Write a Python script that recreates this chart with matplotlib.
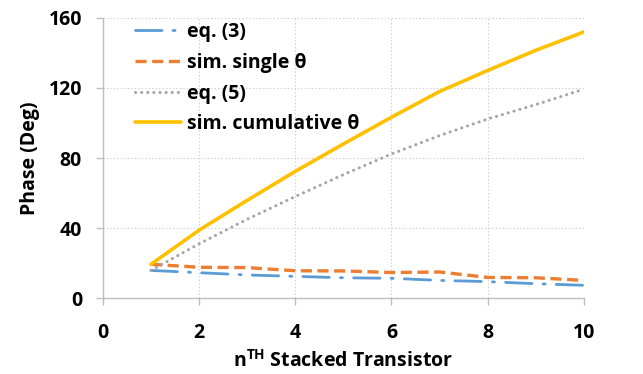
import matplotlib
matplotlib.use("Agg")
import matplotlib.pyplot as plt

FONT = ['Open Sans', 'DejaVu Sans']
plt.rcParams['font.family'] = FONT
plt.rcParams['font.weight'] = 'bold'
plt.rcParams['mathtext.fontset'] = 'custom'
plt.rcParams['mathtext.bf'] = 'Open Sans:bold'
plt.rcParams['mathtext.rm'] = 'Open Sans:bold'
plt.rcParams['lines.scale_dashes'] = False

x = [1, 2, 3, 4, 5, 6, 7, 8, 9, 10]
eq3 = [15.8, 14.5, 13.2, 12.4, 11.6, 11.3, 10.1, 9.4, 8.2, 7.3]
sim_single = [19.3, 17.6, 17.4, 15.6, 15.5, 14.6, 14.9, 11.8, 11.6, 10.1]
eq5 = [15.8, 31.0, 45.0, 58.0, 70.5, 82.3, 92.8, 102.3, 110.5, 119.3]
sim_cum = [19.3, 38.8, 55.8, 72.4, 88.0, 103.3, 118.0, 130.0, 141.5, 152.0]

labels = ['eq. (3)', 'sim. single θ', 'eq. (5)', 'sim. cumulative θ']
colors = ['#5B9BD5', '#ED7D31', '#A5A5A5', '#FFC000']

xticks = [0, 2, 4, 6, 8, 10]
yticks = [0, 40, 80, 120, 160]

FS = 14

fig = plt.figure(figsize=(6.43, 3.74), dpi=100)
ax = fig.add_axes([0.160, 0.203, 0.748, 0.749])

ax.plot(x, eq3, color=colors[0], lw=2.0, dashes=(19, 8, 1.5, 8), solid_capstyle='round',
        dash_capstyle='round', label=labels[0])
ax.plot(x, sim_single, color=colors[1], lw=2.4, dashes=(8, 4), label=labels[1])
ax.plot(x, eq5, color=colors[2], lw=2.2, dashes=(0.1, 4.3), dash_capstyle='round', label=labels[2])
ax.plot(x, sim_cum, color=colors[3], lw=2.6, label=labels[3], solid_capstyle='round')

ax.set_xlim(0, 10)
ax.set_ylim(0, 160)
ax.set_xticks(xticks)
ax.set_yticks(yticks)
ax.grid(True, color='#D0D0D0', linestyle=(0, (1, 1.5)), lw=0.8)
ax.set_axisbelow(True)
for s in ['top', 'right']:
    ax.spines[s].set_visible(False)
for s in ['left', 'bottom']:
    ax.spines[s].set_color('#BFBFBF')
    ax.spines[s].set_linewidth(1.0)
ax.tick_params(axis='both', colors='#BFBFBF', length=5, width=1.0, labelcolor='black',
               labelsize=FS, direction='out')
ax.tick_params(axis='x', pad=13)
ax.tick_params(axis='y', pad=10)

ax.set_xlabel(r'$\mathbf{n^{TH}}$ Stacked Transistor', fontsize=FS, fontweight='bold', labelpad=5)
ax.set_ylabel('Phase (Deg)', fontsize=FS, fontweight='bold', labelpad=6)

leg = ax.legend(loc='upper left', bbox_to_anchor=(0.066, 0.985), frameon=False,
                fontsize=FS, handlelength=2.4, handletextpad=0.3, labelspacing=0.55,
                borderpad=0, borderaxespad=0)

fig.savefig('out.png', dpi=100)
